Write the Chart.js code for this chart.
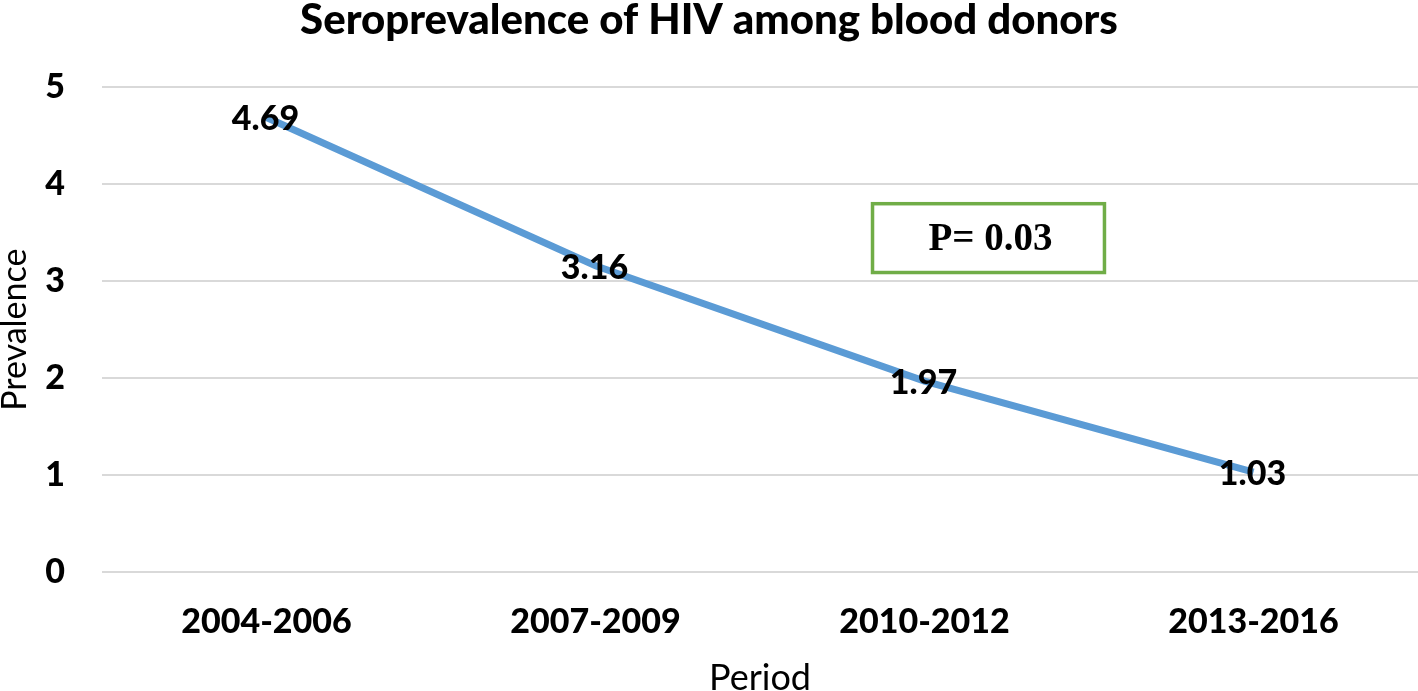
<!DOCTYPE html>
<html>
<head>
<meta charset="utf-8">
<script src="https://cdn.jsdelivr.net/npm/chart.js@4"></script>
<style>
html,body{margin:0;padding:0;background:#fff;}
#wrap{width:1418px;height:691px;position:relative;}
</style>
</head>
<body>
<div id="wrap"><canvas id="c" width="1418" height="691"></canvas></div>
<script>
const categories = ["2004-2006", "2007-2009", "2010-2012", "2013-2016"];
const prevalence = [4.69, 3.16, 1.97, 1.03];
const yTicks = [0, 1, 2, 3, 4, 5];
const chartTitle = "Seroprevalence of HIV among blood donors";
const xTitle = "Period";
const yTitle = "Prevalence";
const pText = "P= 0.03";

const FONT = "Lato, 'Open Sans', sans-serif";

const labelPlugin = {
  id: 'pointLabels',
  afterDatasetsDraw(chart) {
    const ctx = chart.ctx;
    const meta = chart.getDatasetMeta(0);
    ctx.save();
    ctx.font = "900 34px " + FONT;
    ctx.fillStyle = "#000";
    ctx.textAlign = "center";
    ctx.textBaseline = "middle";
    meta.data.forEach((pt, i) => {
      ctx.fillText(prevalence[i].toFixed(2), pt.x - 1, pt.y + 2);
    });
    ctx.restore();
  }
};

const boxPlugin = {
  id: 'pBox',
  afterDraw(chart) {
    const xs = chart.scales.x, ys = chart.scales.y;
    const x0 = xs.getPixelForValue(1.842), x1 = xs.getPixelForValue(2.547);
    const y0 = ys.getPixelForValue(3.80), y1 = ys.getPixelForValue(3.09);
    const ctx = chart.ctx;
    ctx.save();
    ctx.fillStyle = "#fff";
    ctx.fillRect(x0, y0, x1 - x0, y1 - y0);
    ctx.strokeStyle = "#70AD47";
    ctx.lineWidth = 3.5;
    ctx.strokeRect(x0, y0, x1 - x0, y1 - y0);
    ctx.font = "bold 39px 'Liberation Serif', 'Times New Roman', serif";
    ctx.fillStyle = "#000";
    ctx.textAlign = "center";
    ctx.textBaseline = "middle";
    ctx.fillText(pText, (x0 + x1) / 2 + 2, (y0 + y1) / 2 + 2);
    ctx.restore();
  }
};

new Chart(document.getElementById('c'), {
  type: 'line',
  data: {
    labels: categories,
    datasets: [{
      data: prevalence,
      borderColor: "#5B9BD5",
      borderWidth: 7,
      pointRadius: 0,
      tension: 0,
      fill: false
    }]
  },
  options: {
    responsive: false,
    animation: false,
    layout: { padding: { top: 0, right: 0, bottom: 0, left: 0 } },
    plugins: {
      legend: { display: false },
      tooltip: { enabled: false },
      title: {
        display: true,
        text: chartTitle,
        color: "#000",
        font: { family: FONT, size: 42, weight: 900 },
        padding: { top: -5, bottom: 42 }
      }
    },
    scales: {
      x: {
        offset: true,
        grid: { display: false, drawTicks: false },
        border: { display: false },
        ticks: { color: "#000", font: { family: FONT, size: 34, weight: 900 }, padding: 30 },
        title: { display: true, text: xTitle, color: "#000", font: { family: FONT, size: 36 }, padding: { top: 0, bottom: -9 } },
        afterFit(s) { s.height = 119; }
      },
      y: {
        min: 0, max: 5,
        afterBuildTicks(s) { s.ticks = yTicks.map(v => ({ value: v })); },
        grid: { color: "#d9d9d9", lineWidth: 2, drawTicks: false },
        border: { display: false },
        ticks: { color: "#000", font: { family: FONT, size: 34, weight: 900 }, padding: 37 },
        title: { display: true, text: yTitle, color: "#000", font: { family: FONT, size: 34 }, padding: -5 },
        afterFit(s) { s.width = 102; }
      }
    }
  },
  plugins: [labelPlugin, boxPlugin]
});
</script>
</body>
</html>
